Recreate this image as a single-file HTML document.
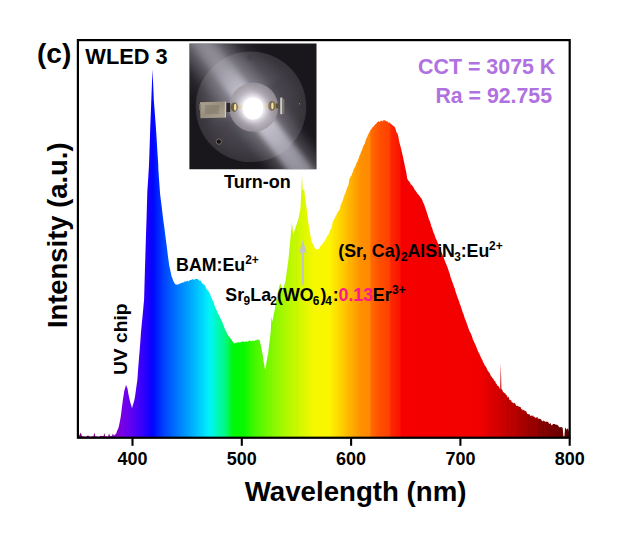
<!DOCTYPE html>
<html><head><meta charset="utf-8"><title>WLED 3 spectrum</title>
<style>
html,body{margin:0;padding:0;background:#fff;}
body{width:622px;height:545px;overflow:hidden;}
svg{display:block;font-family:"Liberation Sans",sans-serif;font-weight:bold;}
</style></head><body>
<svg width="622" height="545" viewBox="0 0 622 545">
<defs>
<linearGradient id="spec" gradientUnits="userSpaceOnUse" x1="77.9" y1="0" x2="569.7" y2="0">
<stop offset="0.00%" stop-color="#7a0078"/>
<stop offset="6.22%" stop-color="#80008a"/>
<stop offset="7.56%" stop-color="#7c00c8"/>
<stop offset="9.11%" stop-color="#7800e8"/>
<stop offset="10.44%" stop-color="#6400f0"/>
<stop offset="11.78%" stop-color="#5000f8"/>
<stop offset="13.33%" stop-color="#3000fc"/>
<stop offset="14.67%" stop-color="#1000ff"/>
<stop offset="15.33%" stop-color="#0008ff"/>
<stop offset="17.33%" stop-color="#0040ff"/>
<stop offset="20.67%" stop-color="#0080ff"/>
<stop offset="23.33%" stop-color="#00b0ff"/>
<stop offset="25.78%" stop-color="#00e0fc"/>
<stop offset="26.89%" stop-color="#00f6f6"/>
<stop offset="28.00%" stop-color="#00f8c8"/>
<stop offset="30.00%" stop-color="#00f880"/>
<stop offset="31.56%" stop-color="#00f808"/>
<stop offset="33.78%" stop-color="#08f800"/>
<stop offset="35.78%" stop-color="#40f800"/>
<stop offset="39.33%" stop-color="#80f800"/>
<stop offset="42.44%" stop-color="#b0f800"/>
<stop offset="45.56%" stop-color="#d8f800"/>
<stop offset="48.00%" stop-color="#f6f800"/>
<stop offset="51.11%" stop-color="#faf600"/>
<stop offset="53.56%" stop-color="#ffd000"/>
<stop offset="55.56%" stop-color="#ffb000"/>
<stop offset="57.56%" stop-color="#ff9000"/>
<stop offset="59.38%" stop-color="#ff8800"/>
<stop offset="59.56%" stop-color="#ff6c00"/>
<stop offset="61.33%" stop-color="#ff5000"/>
<stop offset="63.47%" stop-color="#ff4000"/>
<stop offset="63.60%" stop-color="#fc2800"/>
<stop offset="65.51%" stop-color="#fa1400"/>
<stop offset="65.69%" stop-color="#f60000"/>
<stop offset="81.78%" stop-color="#f20000"/>
<stop offset="84.00%" stop-color="#e00000"/>
<stop offset="87.11%" stop-color="#c80000"/>
<stop offset="89.78%" stop-color="#b00000"/>
<stop offset="93.11%" stop-color="#980000"/>
<stop offset="95.78%" stop-color="#800000"/>
<stop offset="98.44%" stop-color="#680000"/>
<stop offset="100.00%" stop-color="#580000"/>
</linearGradient>
<radialGradient id="disk" cx="50%" cy="50%" r="50%">
<stop offset="0" stop-color="#6c6876"/><stop offset="0.45" stop-color="#4e4a54"/><stop offset="0.8" stop-color="#403d44"/><stop offset="1" stop-color="#353238"/>
</radialGradient>
<radialGradient id="ring" cx="50%" cy="50%" r="50%">
<stop offset="0" stop-color="#eeeaf4"/><stop offset="0.45" stop-color="#c8c2ce"/><stop offset="1" stop-color="#9c969c"/>
</radialGradient>
<radialGradient id="glow" cx="50%" cy="50%" r="50%">
<stop offset="0" stop-color="#fff"/><stop offset="0.6" stop-color="#fff" stop-opacity="0.9"/><stop offset="1" stop-color="#fff" stop-opacity="0"/>
</radialGradient>
<linearGradient id="streak" x1="0" y1="0" x2="1" y2="0">
<stop offset="0" stop-color="#d4d2de" stop-opacity="0"/><stop offset="0.28" stop-color="#d4d2de" stop-opacity="0.26"/><stop offset="0.5" stop-color="#d4d2de" stop-opacity="0.42"/><stop offset="0.72" stop-color="#d4d2de" stop-opacity="0.26"/><stop offset="1" stop-color="#d4d2de" stop-opacity="0"/>
</linearGradient>
<linearGradient id="streak2" x1="0" y1="0" x2="0" y2="1">
<stop offset="0" stop-color="#dedce8" stop-opacity="0.04"/><stop offset="0.3" stop-color="#dedce8" stop-opacity="0.22"/><stop offset="0.5" stop-color="#eeecf8" stop-opacity="0.75"/><stop offset="0.7" stop-color="#e0deec" stop-opacity="0.5"/><stop offset="1" stop-color="#dcdae8" stop-opacity="0.22"/>
</linearGradient>
<linearGradient id="elec" x1="0" y1="0" x2="1" y2="1">
<stop offset="0" stop-color="#aca290"/><stop offset="0.5" stop-color="#988e7e"/><stop offset="1" stop-color="#b0a696"/>
</linearGradient>
<clipPath id="sc"><path d="M77.9,437.75 L78.9,436.2 L79.8,434.4 L80.8,432.5 L82.0,436.2 L82.8,436.3 L83.6,436.4 L84.4,436.5 L85.2,436.6 L86.0,436.7 L87.0,436.1 L88.0,435.5 L89.0,436.1 L90.0,436.7 L90.7,436.6 L91.4,436.5 L92.1,436.4 L92.8,436.3 L93.5,436.2 L94.3,432.5 L95.3,436.2 L96.0,436.3 L96.8,436.4 L97.5,436.5 L98.3,436.6 L99.0,436.7 L100.0,436.2 L101.0,435.7 L101.8,435.9 L102.7,436.0 L103.5,436.2 L104.3,433.0 L105.2,436.2 L106.1,436.3 L107.1,436.4 L108.0,436.5 L109.1,433.5 L110.0,436.2 L111.0,435.9 L112.0,435.7 L112.9,433.5 L113.8,435.7 L114.6,434.9 L115.4,434.2 L116.2,433.7 L117.0,430.9 L117.9,429.2 L118.7,427.0 L119.7,422.3 L120.7,417.0 L121.9,407.4 L122.8,400.6 L123.7,394.5 L124.5,389.9 L125.2,388.0 L126.0,384.8 L126.8,387.1 L127.5,388.4 L128.2,392.9 L129.0,396.7 L129.7,400.1 L130.5,403.2 L131.2,405.1 L132.0,408.3 L132.8,405.5 L133.6,402.8 L134.4,399.9 L135.2,395.3 L135.9,390.3 L136.7,384.5 L137.4,379.6 L138.1,369.3 L138.8,360.6 L139.6,351.0 L140.3,341.9 L141.0,332.1 L141.8,323.5 L142.6,315.7 L143.3,308.1 L144.1,299.4 L144.9,270.8 L145.8,241.6 L146.6,216.8 L147.3,192.0 L148.1,180.0 L149.0,165.0 L150.3,126.2 L151.5,95.0 L152.5,69.2 L153.8,100.0 L154.8,113.1 L155.8,126.2 L156.6,138.1 L157.3,150.0 L158.2,163.7 L158.4,170.0 L159.1,180.0 L160.1,193.9 L160.8,199.8 L161.6,205.8 L162.3,211.8 L163.0,217.7 L163.8,223.7 L164.6,229.6 L165.3,235.6 L166.1,241.6 L166.9,247.6 L167.6,253.6 L168.4,259.5 L169.2,265.5 L170.0,269.1 L170.8,272.6 L171.6,276.4 L172.3,278.0 L173.0,280.0 L173.7,281.8 L174.4,282.8 L175.1,284.2 L175.8,284.2 L176.6,284.6 L177.3,284.7 L178.0,284.5 L178.7,284.2 L179.4,283.6 L180.1,284.0 L180.8,283.1 L181.5,282.8 L182.2,282.8 L182.9,282.5 L183.6,282.5 L184.3,281.8 L185.0,281.5 L185.7,281.5 L186.4,281.2 L187.1,281.3 L187.8,280.6 L188.5,281.5 L189.2,280.9 L189.9,280.0 L190.7,279.9 L191.4,279.8 L192.1,279.6 L192.8,279.0 L193.5,279.8 L194.3,279.8 L195.2,279.1 L196.0,279.0 L196.7,278.7 L197.4,279.0 L198.1,279.6 L198.8,279.7 L199.5,280.7 L200.3,280.6 L201.2,281.2 L201.9,283.2 L202.6,283.4 L203.3,283.7 L204.1,285.0 L204.8,285.1 L205.5,286.5 L206.2,288.4 L207.0,289.5 L207.8,290.5 L208.5,291.2 L209.2,292.6 L210.0,293.6 L210.7,296.2 L211.5,297.6 L212.2,299.8 L213.0,301.0 L213.7,302.6 L214.5,305.2 L215.2,307.3 L216.0,308.9 L216.8,310.6 L217.6,312.5 L218.3,314.2 L219.1,315.3 L219.9,317.5 L220.7,319.1 L221.5,320.4 L222.3,322.1 L223.1,324.2 L223.8,325.9 L224.6,328.3 L225.4,330.3 L226.2,331.4 L227.0,333.4 L227.7,334.8 L228.5,336.1 L229.3,336.7 L230.0,337.8 L230.8,339.1 L231.6,340.0 L232.4,340.9 L233.2,342.3 L234.0,343.5 L234.8,343.3 L235.5,342.7 L236.3,342.8 L237.1,342.9 L237.8,341.8 L238.6,342.4 L239.4,342.6 L240.2,342.3 L240.9,342.2 L241.7,341.7 L242.4,341.2 L243.1,342.0 L243.9,341.3 L244.6,341.9 L245.3,342.0 L246.0,341.2 L246.8,341.2 L247.5,341.9 L248.2,341.5 L248.9,340.7 L249.7,340.6 L250.4,340.6 L251.1,341.5 L251.9,341.3 L252.7,340.3 L253.4,341.0 L254.2,341.1 L255.0,340.6 L255.8,340.1 L256.5,340.2 L257.3,339.5 L258.0,339.2 L258.8,340.3 L259.5,339.7 L260.8,345.0 L261.9,351.1 L262.9,355.9 L263.6,361.2 L264.4,366.0 L265.1,369.9 L265.9,365.7 L266.6,361.4 L267.4,357.0 L268.2,353.1 L269.0,345.8 L269.9,339.1 L270.7,331.8 L271.5,316.5 L272.3,321.8 L273.1,317.9 L273.8,314.1 L274.6,310.5 L275.4,305.6 L276.1,302.0 L276.9,297.3 L277.6,293.0 L278.5,289.9 L279.4,286.0 L280.3,283.4 L281.2,285.6 L282.0,287.9 L282.9,291.4 L283.7,287.2 L284.6,284.3 L285.4,281.3 L286.3,275.1 L287.1,268.8 L288.0,263.0 L288.9,254.4 L289.7,246.0 L290.6,236.8 L291.9,222.0 L293.2,234.5 L294.0,231.9 L294.9,229.6 L295.7,226.9 L296.6,224.4 L297.4,221.9 L298.3,219.4 L299.4,214.0 L300.4,209.0 L301.4,188.3 L301.9,174.2 L302.8,190.1 L304.2,189.6 L305.1,196.7 L306.0,203.7 L306.9,210.8 L307.7,217.5 L308.6,224.5 L309.5,229.7 L310.3,234.5 L311.2,239.8 L312.0,242.2 L312.7,243.8 L313.5,244.7 L314.2,246.5 L315.0,248.7 L315.9,248.6 L316.7,249.3 L317.6,249.4 L318.4,249.2 L319.2,248.4 L319.9,247.5 L320.7,245.6 L321.5,245.3 L322.3,244.2 L323.0,242.5 L323.8,242.4 L324.5,241.4 L325.3,239.4 L326.0,239.0 L326.8,236.8 L327.5,235.5 L328.3,234.7 L329.0,233.1 L329.8,230.8 L330.5,229.7 L331.9,226.8 L332.5,222.4 L333.2,220.8 L334.0,219.5 L334.7,218.6 L335.4,216.2 L336.2,215.5 L336.9,213.9 L337.7,211.9 L338.5,210.9 L339.3,209.9 L340.1,208.3 L340.7,204.4 L341.4,203.8 L342.1,201.8 L342.9,200.2 L343.6,197.3 L344.3,195.7 L345.0,193.6 L345.7,192.6 L346.4,190.1 L347.1,188.0 L347.8,186.4 L348.5,185.1 L349.1,180.0 L349.9,178.0 L350.6,176.5 L351.4,175.8 L352.1,173.6 L352.9,172.0 L353.6,169.5 L354.4,167.7 L355.2,166.8 L355.9,164.7 L356.7,162.5 L357.4,161.8 L358.1,159.6 L358.9,158.0 L359.6,155.2 L360.3,154.4 L361.1,151.5 L361.8,150.7 L362.5,148.3 L363.3,146.3 L364.1,144.7 L364.9,143.3 L365.6,140.6 L366.4,138.5 L367.2,137.1 L368.0,134.9 L368.8,133.2 L369.5,132.0 L370.3,130.5 L371.0,129.6 L371.8,128.5 L372.5,127.3 L373.3,126.9 L374.1,125.4 L374.8,125.1 L375.6,123.9 L376.4,123.6 L377.2,122.3 L377.9,122.1 L378.7,121.0 L379.4,122.2 L380.2,121.6 L380.9,120.6 L381.6,120.9 L382.4,121.6 L383.1,119.7 L383.9,120.9 L384.6,119.9 L385.3,120.4 L386.1,121.4 L386.8,120.9 L387.5,121.5 L388.2,122.2 L388.9,123.1 L389.7,122.2 L390.4,123.6 L391.1,124.1 L391.9,124.8 L392.6,125.2 L393.3,125.9 L394.1,126.2 L394.8,127.2 L395.6,128.9 L396.3,132.0 L397.1,132.9 L397.8,134.5 L398.5,137.6 L399.2,141.5 L400.0,144.5 L400.7,147.2 L401.4,150.0 L402.1,153.3 L402.9,156.6 L403.6,160.1 L404.5,164.2 L405.5,168.9 L406.4,173.1 L407.2,178.4 L408.1,180.3 L409.1,181.6 L409.9,182.3 L410.7,184.4 L411.6,184.7 L412.4,186.0 L413.2,186.7 L414.0,188.4 L414.8,189.8 L415.7,191.1 L416.5,192.0 L417.3,193.7 L418.1,194.1 L419.0,195.5 L419.8,196.3 L420.7,197.8 L421.5,198.4 L422.3,200.2 L423.1,202.4 L424.0,204.1 L424.8,206.4 L425.6,208.8 L426.5,211.6 L427.3,213.9 L428.1,216.5 L428.9,219.2 L429.8,221.0 L430.6,223.4 L431.4,226.7 L432.1,227.7 L432.8,230.5 L433.5,232.4 L434.2,233.7 L435.0,236.6 L435.8,238.6 L436.6,240.1 L437.4,242.1 L438.2,244.1 L438.9,245.1 L439.7,247.5 L440.5,249.4 L441.3,251.7 L442.1,253.6 L442.8,255.5 L443.6,257.1 L444.4,259.7 L445.2,261.7 L446.1,264.0 L446.9,265.7 L447.6,267.5 L448.3,269.8 L449.1,272.1 L449.8,273.9 L450.5,276.9 L451.2,278.7 L451.9,280.9 L452.7,283.0 L453.4,285.1 L454.1,287.0 L454.8,288.5 L455.5,291.6 L456.2,293.6 L456.9,295.4 L457.6,297.5 L458.4,299.8 L459.1,301.2 L459.8,304.1 L460.5,305.6 L461.2,307.5 L461.9,309.8 L462.7,312.4 L463.4,313.8 L464.2,316.5 L464.9,318.8 L465.6,320.3 L466.4,322.2 L467.1,324.4 L467.9,326.7 L468.6,328.8 L469.3,330.4 L470.0,332.2 L470.8,333.3 L471.5,335.2 L472.2,337.1 L472.9,339.5 L473.6,340.7 L474.4,342.8 L475.1,343.9 L475.8,345.8 L476.5,347.6 L477.3,349.6 L478.0,351.2 L478.7,352.8 L479.5,353.9 L480.2,355.7 L480.9,357.2 L481.6,358.8 L482.4,360.0 L483.1,362.5 L483.8,362.9 L484.5,365.1 L485.2,366.3 L485.9,366.4 L486.6,368.2 L487.4,369.9 L488.1,371.3 L488.8,372.0 L489.5,373.0 L490.2,374.2 L490.9,376.3 L491.6,376.5 L492.3,377.9 L493.1,378.4 L493.8,379.8 L494.5,381.3 L495.2,380.9 L495.9,383.6 L496.6,383.8 L497.4,385.7 L498.1,386.3 L498.8,386.2 L500.2,389.4 L500.8,363.2 L501.4,388.9 L502.2,389.7 L503.0,391.7 L503.8,392.5 L504.5,393.0 L505.3,393.4 L506.1,394.8 L506.9,395.6 L507.7,397.7 L508.5,396.6 L509.4,399.4 L510.2,400.5 L511.0,399.7 L511.7,402.2 L512.5,402.3 L513.2,403.4 L514.0,402.5 L514.7,403.3 L515.5,404.0 L516.2,406.1 L517.0,405.7 L517.7,405.7 L518.5,406.5 L519.2,406.8 L519.9,406.7 L520.7,407.3 L521.4,409.6 L522.1,408.8 L522.9,410.8 L523.6,409.7 L524.3,410.2 L525.1,411.3 L525.8,411.1 L526.5,411.9 L527.2,413.8 L528.0,414.1 L528.7,414.3 L529.4,414.3 L530.1,415.5 L530.9,416.0 L531.6,415.5 L532.3,416.3 L533.0,415.1 L533.8,417.0 L534.5,416.7 L535.2,417.7 L536.0,417.8 L536.7,417.3 L537.4,417.1 L538.2,419.5 L538.9,417.9 L539.6,419.1 L540.3,419.1 L541.1,419.3 L541.8,420.7 L542.5,421.6 L543.2,420.2 L544.0,421.5 L544.7,421.0 L545.4,421.9 L546.1,421.8 L546.9,421.5 L547.6,421.8 L548.3,422.2 L549.1,424.1 L549.8,423.4 L550.5,423.0 L551.3,424.9 L552.0,425.4 L552.7,424.3 L553.5,423.7 L554.2,424.1 L554.9,424.0 L555.7,424.8 L556.4,424.4 L557.1,425.0 L557.9,425.2 L558.6,426.2 L559.4,427.3 L560.2,427.3 L561.1,426.9 L561.9,427.2 L562.7,427.9 L563.4,436.2 L564.4,436.6 L565.1,427.5 L565.8,428.2 L566.5,430.0 L567.2,428.2 L567.9,429.2 L568.6,429.7 L569.7,437.75 Z"/></clipPath>
<clipPath id="pc"><rect x="189.4" y="43.6" width="127.1" height="125.7"/></clipPath>
<filter id="b0" x="-10%" y="-10%" width="120%" height="120%"><feGaussianBlur stdDeviation="0.6"/></filter>
<filter id="b1" x="-20%" y="-20%" width="140%" height="140%"><feGaussianBlur stdDeviation="1.2"/></filter>
<filter id="b2" x="-50%" y="-50%" width="200%" height="200%"><feGaussianBlur stdDeviation="2.5"/></filter>
</defs>
<rect width="622" height="545" fill="#fff"/>
<!-- spectrum -->
<path d="M77.9,437.75 L78.9,436.2 L79.8,434.4 L80.8,432.5 L82.0,436.2 L82.8,436.3 L83.6,436.4 L84.4,436.5 L85.2,436.6 L86.0,436.7 L87.0,436.1 L88.0,435.5 L89.0,436.1 L90.0,436.7 L90.7,436.6 L91.4,436.5 L92.1,436.4 L92.8,436.3 L93.5,436.2 L94.3,432.5 L95.3,436.2 L96.0,436.3 L96.8,436.4 L97.5,436.5 L98.3,436.6 L99.0,436.7 L100.0,436.2 L101.0,435.7 L101.8,435.9 L102.7,436.0 L103.5,436.2 L104.3,433.0 L105.2,436.2 L106.1,436.3 L107.1,436.4 L108.0,436.5 L109.1,433.5 L110.0,436.2 L111.0,435.9 L112.0,435.7 L112.9,433.5 L113.8,435.7 L114.6,434.9 L115.4,434.2 L116.2,433.7 L117.0,430.9 L117.9,429.2 L118.7,427.0 L119.7,422.3 L120.7,417.0 L121.9,407.4 L122.8,400.6 L123.7,394.5 L124.5,389.9 L125.2,388.0 L126.0,384.8 L126.8,387.1 L127.5,388.4 L128.2,392.9 L129.0,396.7 L129.7,400.1 L130.5,403.2 L131.2,405.1 L132.0,408.3 L132.8,405.5 L133.6,402.8 L134.4,399.9 L135.2,395.3 L135.9,390.3 L136.7,384.5 L137.4,379.6 L138.1,369.3 L138.8,360.6 L139.6,351.0 L140.3,341.9 L141.0,332.1 L141.8,323.5 L142.6,315.7 L143.3,308.1 L144.1,299.4 L144.9,270.8 L145.8,241.6 L146.6,216.8 L147.3,192.0 L148.1,180.0 L149.0,165.0 L150.3,126.2 L151.5,95.0 L152.5,69.2 L153.8,100.0 L154.8,113.1 L155.8,126.2 L156.6,138.1 L157.3,150.0 L158.2,163.7 L158.4,170.0 L159.1,180.0 L160.1,193.9 L160.8,199.8 L161.6,205.8 L162.3,211.8 L163.0,217.7 L163.8,223.7 L164.6,229.6 L165.3,235.6 L166.1,241.6 L166.9,247.6 L167.6,253.6 L168.4,259.5 L169.2,265.5 L170.0,269.1 L170.8,272.6 L171.6,276.4 L172.3,278.0 L173.0,280.0 L173.7,281.8 L174.4,282.8 L175.1,284.2 L175.8,284.2 L176.6,284.6 L177.3,284.7 L178.0,284.5 L178.7,284.2 L179.4,283.6 L180.1,284.0 L180.8,283.1 L181.5,282.8 L182.2,282.8 L182.9,282.5 L183.6,282.5 L184.3,281.8 L185.0,281.5 L185.7,281.5 L186.4,281.2 L187.1,281.3 L187.8,280.6 L188.5,281.5 L189.2,280.9 L189.9,280.0 L190.7,279.9 L191.4,279.8 L192.1,279.6 L192.8,279.0 L193.5,279.8 L194.3,279.8 L195.2,279.1 L196.0,279.0 L196.7,278.7 L197.4,279.0 L198.1,279.6 L198.8,279.7 L199.5,280.7 L200.3,280.6 L201.2,281.2 L201.9,283.2 L202.6,283.4 L203.3,283.7 L204.1,285.0 L204.8,285.1 L205.5,286.5 L206.2,288.4 L207.0,289.5 L207.8,290.5 L208.5,291.2 L209.2,292.6 L210.0,293.6 L210.7,296.2 L211.5,297.6 L212.2,299.8 L213.0,301.0 L213.7,302.6 L214.5,305.2 L215.2,307.3 L216.0,308.9 L216.8,310.6 L217.6,312.5 L218.3,314.2 L219.1,315.3 L219.9,317.5 L220.7,319.1 L221.5,320.4 L222.3,322.1 L223.1,324.2 L223.8,325.9 L224.6,328.3 L225.4,330.3 L226.2,331.4 L227.0,333.4 L227.7,334.8 L228.5,336.1 L229.3,336.7 L230.0,337.8 L230.8,339.1 L231.6,340.0 L232.4,340.9 L233.2,342.3 L234.0,343.5 L234.8,343.3 L235.5,342.7 L236.3,342.8 L237.1,342.9 L237.8,341.8 L238.6,342.4 L239.4,342.6 L240.2,342.3 L240.9,342.2 L241.7,341.7 L242.4,341.2 L243.1,342.0 L243.9,341.3 L244.6,341.9 L245.3,342.0 L246.0,341.2 L246.8,341.2 L247.5,341.9 L248.2,341.5 L248.9,340.7 L249.7,340.6 L250.4,340.6 L251.1,341.5 L251.9,341.3 L252.7,340.3 L253.4,341.0 L254.2,341.1 L255.0,340.6 L255.8,340.1 L256.5,340.2 L257.3,339.5 L258.0,339.2 L258.8,340.3 L259.5,339.7 L260.8,345.0 L261.9,351.1 L262.9,355.9 L263.6,361.2 L264.4,366.0 L265.1,369.9 L265.9,365.7 L266.6,361.4 L267.4,357.0 L268.2,353.1 L269.0,345.8 L269.9,339.1 L270.7,331.8 L271.5,316.5 L272.3,321.8 L273.1,317.9 L273.8,314.1 L274.6,310.5 L275.4,305.6 L276.1,302.0 L276.9,297.3 L277.6,293.0 L278.5,289.9 L279.4,286.0 L280.3,283.4 L281.2,285.6 L282.0,287.9 L282.9,291.4 L283.7,287.2 L284.6,284.3 L285.4,281.3 L286.3,275.1 L287.1,268.8 L288.0,263.0 L288.9,254.4 L289.7,246.0 L290.6,236.8 L291.9,222.0 L293.2,234.5 L294.0,231.9 L294.9,229.6 L295.7,226.9 L296.6,224.4 L297.4,221.9 L298.3,219.4 L299.4,214.0 L300.4,209.0 L301.4,188.3 L301.9,174.2 L302.8,190.1 L304.2,189.6 L305.1,196.7 L306.0,203.7 L306.9,210.8 L307.7,217.5 L308.6,224.5 L309.5,229.7 L310.3,234.5 L311.2,239.8 L312.0,242.2 L312.7,243.8 L313.5,244.7 L314.2,246.5 L315.0,248.7 L315.9,248.6 L316.7,249.3 L317.6,249.4 L318.4,249.2 L319.2,248.4 L319.9,247.5 L320.7,245.6 L321.5,245.3 L322.3,244.2 L323.0,242.5 L323.8,242.4 L324.5,241.4 L325.3,239.4 L326.0,239.0 L326.8,236.8 L327.5,235.5 L328.3,234.7 L329.0,233.1 L329.8,230.8 L330.5,229.7 L331.9,226.8 L332.5,222.4 L333.2,220.8 L334.0,219.5 L334.7,218.6 L335.4,216.2 L336.2,215.5 L336.9,213.9 L337.7,211.9 L338.5,210.9 L339.3,209.9 L340.1,208.3 L340.7,204.4 L341.4,203.8 L342.1,201.8 L342.9,200.2 L343.6,197.3 L344.3,195.7 L345.0,193.6 L345.7,192.6 L346.4,190.1 L347.1,188.0 L347.8,186.4 L348.5,185.1 L349.1,180.0 L349.9,178.0 L350.6,176.5 L351.4,175.8 L352.1,173.6 L352.9,172.0 L353.6,169.5 L354.4,167.7 L355.2,166.8 L355.9,164.7 L356.7,162.5 L357.4,161.8 L358.1,159.6 L358.9,158.0 L359.6,155.2 L360.3,154.4 L361.1,151.5 L361.8,150.7 L362.5,148.3 L363.3,146.3 L364.1,144.7 L364.9,143.3 L365.6,140.6 L366.4,138.5 L367.2,137.1 L368.0,134.9 L368.8,133.2 L369.5,132.0 L370.3,130.5 L371.0,129.6 L371.8,128.5 L372.5,127.3 L373.3,126.9 L374.1,125.4 L374.8,125.1 L375.6,123.9 L376.4,123.6 L377.2,122.3 L377.9,122.1 L378.7,121.0 L379.4,122.2 L380.2,121.6 L380.9,120.6 L381.6,120.9 L382.4,121.6 L383.1,119.7 L383.9,120.9 L384.6,119.9 L385.3,120.4 L386.1,121.4 L386.8,120.9 L387.5,121.5 L388.2,122.2 L388.9,123.1 L389.7,122.2 L390.4,123.6 L391.1,124.1 L391.9,124.8 L392.6,125.2 L393.3,125.9 L394.1,126.2 L394.8,127.2 L395.6,128.9 L396.3,132.0 L397.1,132.9 L397.8,134.5 L398.5,137.6 L399.2,141.5 L400.0,144.5 L400.7,147.2 L401.4,150.0 L402.1,153.3 L402.9,156.6 L403.6,160.1 L404.5,164.2 L405.5,168.9 L406.4,173.1 L407.2,178.4 L408.1,180.3 L409.1,181.6 L409.9,182.3 L410.7,184.4 L411.6,184.7 L412.4,186.0 L413.2,186.7 L414.0,188.4 L414.8,189.8 L415.7,191.1 L416.5,192.0 L417.3,193.7 L418.1,194.1 L419.0,195.5 L419.8,196.3 L420.7,197.8 L421.5,198.4 L422.3,200.2 L423.1,202.4 L424.0,204.1 L424.8,206.4 L425.6,208.8 L426.5,211.6 L427.3,213.9 L428.1,216.5 L428.9,219.2 L429.8,221.0 L430.6,223.4 L431.4,226.7 L432.1,227.7 L432.8,230.5 L433.5,232.4 L434.2,233.7 L435.0,236.6 L435.8,238.6 L436.6,240.1 L437.4,242.1 L438.2,244.1 L438.9,245.1 L439.7,247.5 L440.5,249.4 L441.3,251.7 L442.1,253.6 L442.8,255.5 L443.6,257.1 L444.4,259.7 L445.2,261.7 L446.1,264.0 L446.9,265.7 L447.6,267.5 L448.3,269.8 L449.1,272.1 L449.8,273.9 L450.5,276.9 L451.2,278.7 L451.9,280.9 L452.7,283.0 L453.4,285.1 L454.1,287.0 L454.8,288.5 L455.5,291.6 L456.2,293.6 L456.9,295.4 L457.6,297.5 L458.4,299.8 L459.1,301.2 L459.8,304.1 L460.5,305.6 L461.2,307.5 L461.9,309.8 L462.7,312.4 L463.4,313.8 L464.2,316.5 L464.9,318.8 L465.6,320.3 L466.4,322.2 L467.1,324.4 L467.9,326.7 L468.6,328.8 L469.3,330.4 L470.0,332.2 L470.8,333.3 L471.5,335.2 L472.2,337.1 L472.9,339.5 L473.6,340.7 L474.4,342.8 L475.1,343.9 L475.8,345.8 L476.5,347.6 L477.3,349.6 L478.0,351.2 L478.7,352.8 L479.5,353.9 L480.2,355.7 L480.9,357.2 L481.6,358.8 L482.4,360.0 L483.1,362.5 L483.8,362.9 L484.5,365.1 L485.2,366.3 L485.9,366.4 L486.6,368.2 L487.4,369.9 L488.1,371.3 L488.8,372.0 L489.5,373.0 L490.2,374.2 L490.9,376.3 L491.6,376.5 L492.3,377.9 L493.1,378.4 L493.8,379.8 L494.5,381.3 L495.2,380.9 L495.9,383.6 L496.6,383.8 L497.4,385.7 L498.1,386.3 L498.8,386.2 L500.2,389.4 L500.8,363.2 L501.4,388.9 L502.2,389.7 L503.0,391.7 L503.8,392.5 L504.5,393.0 L505.3,393.4 L506.1,394.8 L506.9,395.6 L507.7,397.7 L508.5,396.6 L509.4,399.4 L510.2,400.5 L511.0,399.7 L511.7,402.2 L512.5,402.3 L513.2,403.4 L514.0,402.5 L514.7,403.3 L515.5,404.0 L516.2,406.1 L517.0,405.7 L517.7,405.7 L518.5,406.5 L519.2,406.8 L519.9,406.7 L520.7,407.3 L521.4,409.6 L522.1,408.8 L522.9,410.8 L523.6,409.7 L524.3,410.2 L525.1,411.3 L525.8,411.1 L526.5,411.9 L527.2,413.8 L528.0,414.1 L528.7,414.3 L529.4,414.3 L530.1,415.5 L530.9,416.0 L531.6,415.5 L532.3,416.3 L533.0,415.1 L533.8,417.0 L534.5,416.7 L535.2,417.7 L536.0,417.8 L536.7,417.3 L537.4,417.1 L538.2,419.5 L538.9,417.9 L539.6,419.1 L540.3,419.1 L541.1,419.3 L541.8,420.7 L542.5,421.6 L543.2,420.2 L544.0,421.5 L544.7,421.0 L545.4,421.9 L546.1,421.8 L546.9,421.5 L547.6,421.8 L548.3,422.2 L549.1,424.1 L549.8,423.4 L550.5,423.0 L551.3,424.9 L552.0,425.4 L552.7,424.3 L553.5,423.7 L554.2,424.1 L554.9,424.0 L555.7,424.8 L556.4,424.4 L557.1,425.0 L557.9,425.2 L558.6,426.2 L559.4,427.3 L560.2,427.3 L561.1,426.9 L561.9,427.2 L562.7,427.9 L563.4,436.2 L564.4,436.6 L565.1,427.5 L565.8,428.2 L566.5,430.0 L567.2,428.2 L567.9,429.2 L568.6,429.7 L569.7,437.75 Z" fill="url(#spec)"/>
<g clip-path="url(#sc)"><rect x="124.0" y="60" width="2" height="378" fill="#000" fill-opacity="0.012"/><rect x="133.0" y="60" width="2" height="378" fill="#000" fill-opacity="0.013"/><rect x="138.0" y="60" width="1" height="378" fill="#000" fill-opacity="0.012"/><rect x="201.5" y="60" width="1" height="378" fill="#000" fill-opacity="0.013"/><rect x="210.0" y="60" width="1.5" height="378" fill="#000" fill-opacity="0.013"/><rect x="271.0" y="60" width="1" height="378" fill="#000" fill-opacity="0.013"/><rect x="296.0" y="60" width="1.5" height="378" fill="#000" fill-opacity="0.013"/><rect x="348.0" y="60" width="1" height="378" fill="#000" fill-opacity="0.012"/><rect x="385.5" y="60" width="1" height="378" fill="#000" fill-opacity="0.013"/><rect x="426.5" y="60" width="1.5" height="378" fill="#000" fill-opacity="0.012"/><rect x="448.0" y="60" width="1.5" height="378" fill="#000" fill-opacity="0.013"/><rect x="485.5" y="60" width="1" height="378" fill="#000" fill-opacity="0.024"/><rect x="487.5" y="60" width="2" height="378" fill="#000" fill-opacity="0.025"/><rect x="489.5" y="60" width="1" height="378" fill="#000" fill-opacity="0.022"/><rect x="491.5" y="60" width="2" height="378" fill="#000" fill-opacity="0.023"/><rect x="500.5" y="60" width="1" height="378" fill="#000" fill-opacity="0.051"/><rect x="501.5" y="60" width="1" height="378" fill="#000" fill-opacity="0.035"/><rect x="503.5" y="60" width="1" height="378" fill="#000" fill-opacity="0.025"/><rect x="506.5" y="60" width="1" height="378" fill="#000" fill-opacity="0.034"/><rect x="507.5" y="60" width="1.5" height="378" fill="#000" fill-opacity="0.043"/><rect x="511.0" y="60" width="1" height="378" fill="#000" fill-opacity="0.028"/><rect x="518.0" y="60" width="1" height="378" fill="#000" fill-opacity="0.020"/><rect x="519.0" y="60" width="1.5" height="378" fill="#000" fill-opacity="0.021"/><rect x="520.5" y="60" width="1" height="378" fill="#000" fill-opacity="0.031"/><rect x="522.5" y="60" width="1" height="378" fill="#000" fill-opacity="0.026"/><rect x="525.5" y="60" width="1.5" height="378" fill="#000" fill-opacity="0.029"/><rect x="528.0" y="60" width="1" height="378" fill="#000" fill-opacity="0.086"/><rect x="529.0" y="60" width="1" height="378" fill="#000" fill-opacity="0.026"/><rect x="531.0" y="60" width="1" height="378" fill="#000" fill-opacity="0.093"/><rect x="533.0" y="60" width="1" height="378" fill="#000" fill-opacity="0.086"/><rect x="535.0" y="60" width="1" height="378" fill="#000" fill-opacity="0.037"/><rect x="538.0" y="60" width="2" height="378" fill="#000" fill-opacity="0.082"/><rect x="540.0" y="60" width="1" height="378" fill="#000" fill-opacity="0.043"/><rect x="542.0" y="60" width="1.5" height="378" fill="#000" fill-opacity="0.077"/><rect x="545.5" y="60" width="1" height="378" fill="#000" fill-opacity="0.055"/><rect x="548.5" y="60" width="1" height="378" fill="#000" fill-opacity="0.061"/><rect x="550.5" y="60" width="1.5" height="378" fill="#000" fill-opacity="0.096"/><rect x="553.0" y="60" width="1" height="378" fill="#000" fill-opacity="0.072"/><rect x="554.0" y="60" width="1.5" height="378" fill="#000" fill-opacity="0.020"/><rect x="559.5" y="60" width="1" height="378" fill="#000" fill-opacity="0.081"/><rect x="563.5" y="60" width="1" height="378" fill="#000" fill-opacity="0.029"/><rect x="565.5" y="60" width="2" height="378" fill="#000" fill-opacity="0.026"/><rect x="568.5" y="60" width="1.5" height="378" fill="#000" fill-opacity="0.091"/></g>
<!-- photo -->
<g clip-path="url(#pc)">
<rect x="189" y="43" width="128" height="127" fill="#19161c"/>
<circle cx="251" cy="106.8" r="55.3" fill="url(#disk)" filter="url(#b0)"/>
<circle cx="249.5" cy="57.6" r="2.6" fill="#34303c" filter="url(#b0)"/>
<g transform="translate(252.8,108) rotate(-37.6)" filter="url(#b2)">
<rect x="-44" y="-120" width="88" height="112" fill="url(#streak)" opacity="0.55"/>
<rect x="-29" y="-120" width="58" height="240" fill="url(#streak)"/>
<rect x="-10.5" y="-120" width="21" height="240" fill="url(#streak2)"/>
</g>
<circle cx="218.9" cy="141.6" r="2.7" fill="#19161a" stroke="#7a7066" stroke-width="0.9"/>
<circle cx="253.6" cy="107.2" r="24.6" fill="url(#ring)" opacity="0.8" filter="url(#b0)"/>
<rect x="200.2" y="101.9" width="25.6" height="15.9" fill="url(#elec)" transform="rotate(-1.5 213 110)"/>
<rect x="205" y="105" width="14" height="9" fill="#7c7266" opacity="0.4" filter="url(#b0)"/>
<rect x="224.8" y="101.7" width="1.2" height="15.6" fill="#d0c8b8"/>
<rect x="199.0" y="104" width="1.4" height="6" fill="#6a6258"/>
<rect x="226.6" y="103" width="3.6" height="9" fill="#2c2824"/>
<ellipse cx="234.3" cy="107.2" rx="3.6" ry="4.8" fill="#6e6044"/>
<ellipse cx="235.2" cy="107.2" rx="1.2" ry="3.4" fill="#f4e2a0"/>
<rect x="238.2" y="105.6" width="3.2" height="2.6" fill="#c8a860"/>
<rect x="264.8" y="105.2" width="3" height="2.4" fill="#d8b060"/>
<ellipse cx="271.8" cy="105.9" rx="3.6" ry="4.8" fill="#78684a"/>
<ellipse cx="272.4" cy="105.9" rx="1.2" ry="3.3" fill="#f4e2a4"/>
<rect x="275.8" y="103.4" width="4.4" height="5" fill="#5c5240"/>
<rect x="280.2" y="97.6" width="2.2" height="16.6" fill="#cfcbc2"/>
<rect x="282.4" y="99" width="1.9" height="14.6" fill="#7c766c"/>
<rect x="299" y="103.2" width="1" height="1.2" fill="#8a8690"/>
<circle cx="253" cy="108" r="16" fill="url(#glow)" filter="url(#b2)"/>
<rect x="242.9" y="97.4" width="20.2" height="22" rx="9.6" fill="#fff" filter="url(#b0)"/>
</g>
<!-- frame -->
<rect x="77.9" y="40.1" width="491.80" height="397.65" fill="none" stroke="#000" stroke-width="2.2"/>
<line x1="132.5" y1="437.75" x2="132.5" y2="445.8" stroke="#000" stroke-width="2.1"/>
<text x="132.5" y="465" font-size="18" text-anchor="middle">400</text>
<line x1="241.8" y1="437.75" x2="241.8" y2="445.8" stroke="#000" stroke-width="2.1"/>
<text x="241.8" y="465" font-size="18" text-anchor="middle">500</text>
<line x1="351.1" y1="437.75" x2="351.1" y2="445.8" stroke="#000" stroke-width="2.1"/>
<text x="351.1" y="465" font-size="18" text-anchor="middle">600</text>
<line x1="460.4" y1="437.75" x2="460.4" y2="445.8" stroke="#000" stroke-width="2.1"/>
<text x="460.4" y="465" font-size="18" text-anchor="middle">700</text>
<line x1="569.7" y1="437.75" x2="569.7" y2="445.8" stroke="#000" stroke-width="2.1"/>
<text x="569.7" y="465" font-size="18" text-anchor="middle">800</text>

<!-- arrow -->
<line x1="302.85" y1="251" x2="302.85" y2="284.8" stroke="#c4c4c4" stroke-width="2.2"/>
<path d="M302.85,239.4 L306.7,253.6 L302.85,251.8 L299.0,253.6 Z" fill="#c4c4c4"/>
<!-- texts -->
<text x="37.0" y="63.2" font-size="28">(c)</text>
<text x="85.3" y="64.4" font-size="21.2" textLength="82.4" lengthAdjust="spacingAndGlyphs">WLED 3</text>
<text x="418.0" y="73.8" font-size="21.4" fill="#b072e0">CCT = 3075 K</text>
<text x="435.4" y="102.7" font-size="21.3" fill="#b072e0">Ra = 92.755</text>
<text x="224.0" y="187.6" font-size="18">Turn-on</text>
<text x="176.09" y="271.30" font-size="17.8">BAM:Eu</text>
<text x="245.20" y="263.90" font-size="11.9">2+</text>
<text x="338.22" y="257.00" font-size="17.8">(Sr, Ca)</text>
<text x="400.90" y="261.00" font-size="11.9">2</text>
<text x="407.52" y="257.00" font-size="17.8">AlSiN</text>
<text x="454.15" y="261.00" font-size="11.9">3</text>
<text x="460.63" y="257.00" font-size="17.8">:Eu</text>
<text x="489.10" y="249.60" font-size="11.9">2+</text>
<text x="225.32" y="301.20" font-size="17.8">Sr</text>
<text x="243.40" y="305.20" font-size="11.9">9</text>
<text x="250.29" y="301.20" font-size="17.8">La</text>
<text x="270.20" y="305.20" font-size="11.9">2</text>
<text x="277.07" y="301.20" font-size="17.8">(WO</text>
<text x="312.80" y="305.20" font-size="11.9">6</text>
<text x="320.60" y="301.20" font-size="17.8">)</text>
<text x="325.35" y="305.20" font-size="11.9">4</text>
<text x="332.63" y="301.20" font-size="17.8">:</text>
<text x="338.54" y="301.20" font-size="17.8" fill="#ff1690">0.13</text>
<text x="372.79" y="301.20" font-size="17.8">Er</text>
<text x="392.05" y="293.80" font-size="11.9">3+</text>
<text transform="translate(127.2,375.0) rotate(-90)" font-size="19.2">UV chip</text>
<text transform="translate(67.3,328.1) rotate(-90)" font-size="27.4">Intensity (a.u.)</text>
<text x="244.8" y="501.0" font-size="27.65">Wavelength (nm)</text>
</svg>
</body></html>
